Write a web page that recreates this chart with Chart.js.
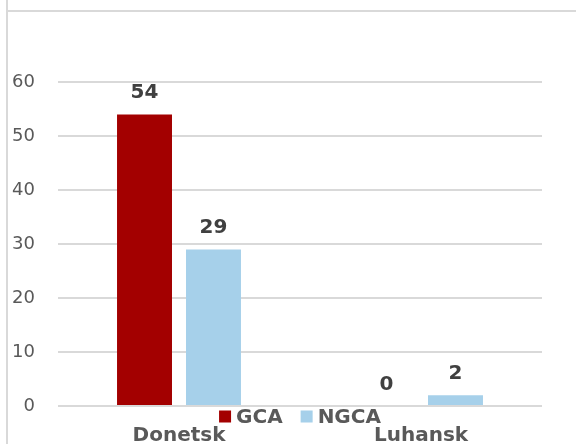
<!DOCTYPE html>
<html>
<head>
<meta charset="utf-8">
<script src="https://cdn.jsdelivr.net/npm/chart.js@4.4.1/dist/chart.umd.min.js"></script>
<style>
  html, body { margin: 0; padding: 0; background: #fff; overflow: hidden; }
  #wrap { position: relative; width: 576px; height: 444px; }
  #edgeLeft { position: absolute; left: 6px; top: 0; width: 2px; height: 444px; background: #d9d9d9; }
  #edgeTop { position: absolute; left: 6px; top: 10px; right: 0; height: 2px; background: #d9d9d9; }
</style>
</head>
<body>
<div id="wrap">
  <canvas id="chart"></canvas>
  <div id="edgeLeft"></div>
  <div id="edgeTop"></div>
</div>
<script>
// values
const categories = ["Donetsk", "Luhansk"];
const seriesNames = ["GCA", "NGCA"];
const gcaValues = [54, 0];
const ngcaValues = [29, 2];
const seriesColors = ["#a30000", "#a6d0ea"];

const font = "'DejaVu Sans', Verdana, sans-serif";

// numbers above each bar
const barLabels = {
  id: "barLabels",
  afterDatasetsDraw(chart) {
    const ctx = chart.ctx;
    ctx.save();
    ctx.font = "bold 20px " + font;
    ctx.fillStyle = "#404040";
    ctx.textAlign = "center";
    ctx.textBaseline = "alphabetic";
    chart.data.datasets.forEach((ds, i) => {
      chart.getDatasetMeta(i).data.forEach((bar, j) => {
        ctx.fillText(String(ds.data[j]), bar.x, bar.y - 16);
      });
    });
    ctx.restore();
  }
};

// legend sits between the axis line and the category names
const legendUnderAxis = {
  id: "legendUnderAxis",
  afterDraw(chart) {
    const { ctx, chartArea } = chart;
    ctx.save();
    ctx.font = "bold 20px " + font;
    ctx.textBaseline = "middle";
    ctx.textAlign = "left";
    const box = 12, gap = 5, space = 18;
    const items = chart.data.datasets.map(ds => ({
      text: ds.label, color: ds.backgroundColor, w: ctx.measureText(ds.label).width
    }));
    const total = items.reduce((s, it) => s + box + gap + it.w, 0) + space * (items.length - 1);
    let x = (chartArea.left + chartArea.right) / 2 - total / 2;
    const cy = chartArea.bottom + 10.5;
    items.forEach(it => {
      ctx.fillStyle = it.color;
      ctx.fillRect(x, cy - box / 2, box, box);
      ctx.fillStyle = "#595959";
      ctx.fillText(it.text, x + box + gap, cy + 1);
      x += box + gap + it.w + space;
    });
    ctx.restore();
  }
};

new Chart(document.getElementById("chart"), {
  type: "bar",
  data: {
    labels: categories,
    datasets: [
      { label: seriesNames[0], data: gcaValues, backgroundColor: seriesColors[0] },
      { label: seriesNames[1], data: ngcaValues, backgroundColor: seriesColors[1] }
    ]
  },
  options: {
    responsive: true,
    maintainAspectRatio: false,
    animation: false,
    categoryPercentage: 0.57,
    barPercentage: 0.797,
    layout: { padding: { top: 82, right: 34, bottom: 0, left: 0 } },
    plugins: {
      legend: { display: false },
      tooltip: { enabled: false }
    },
    scales: {
      x: {
        grid: { display: false },
        border: { display: false },
        ticks: {
          color: "#595959",
          padding: 10,
          font: { family: font, size: 20, weight: "bold" }
        },
        afterFit(scale) { scale.height = 38; }
      },
      y: {
        min: 0,
        max: 60,
        border: { display: false },
        grid: { color: "#d9d9d9", lineWidth: 2, drawTicks: false },
        ticks: {
          stepSize: 10,
          color: "#595959",
          padding: 23,
          font: { family: font, size: 18 }
        },
        afterFit(scale) { scale.width = 58; }
      }
    }
  },
  plugins: [barLabels, legendUnderAxis]
});
</script>
</body>
</html>
